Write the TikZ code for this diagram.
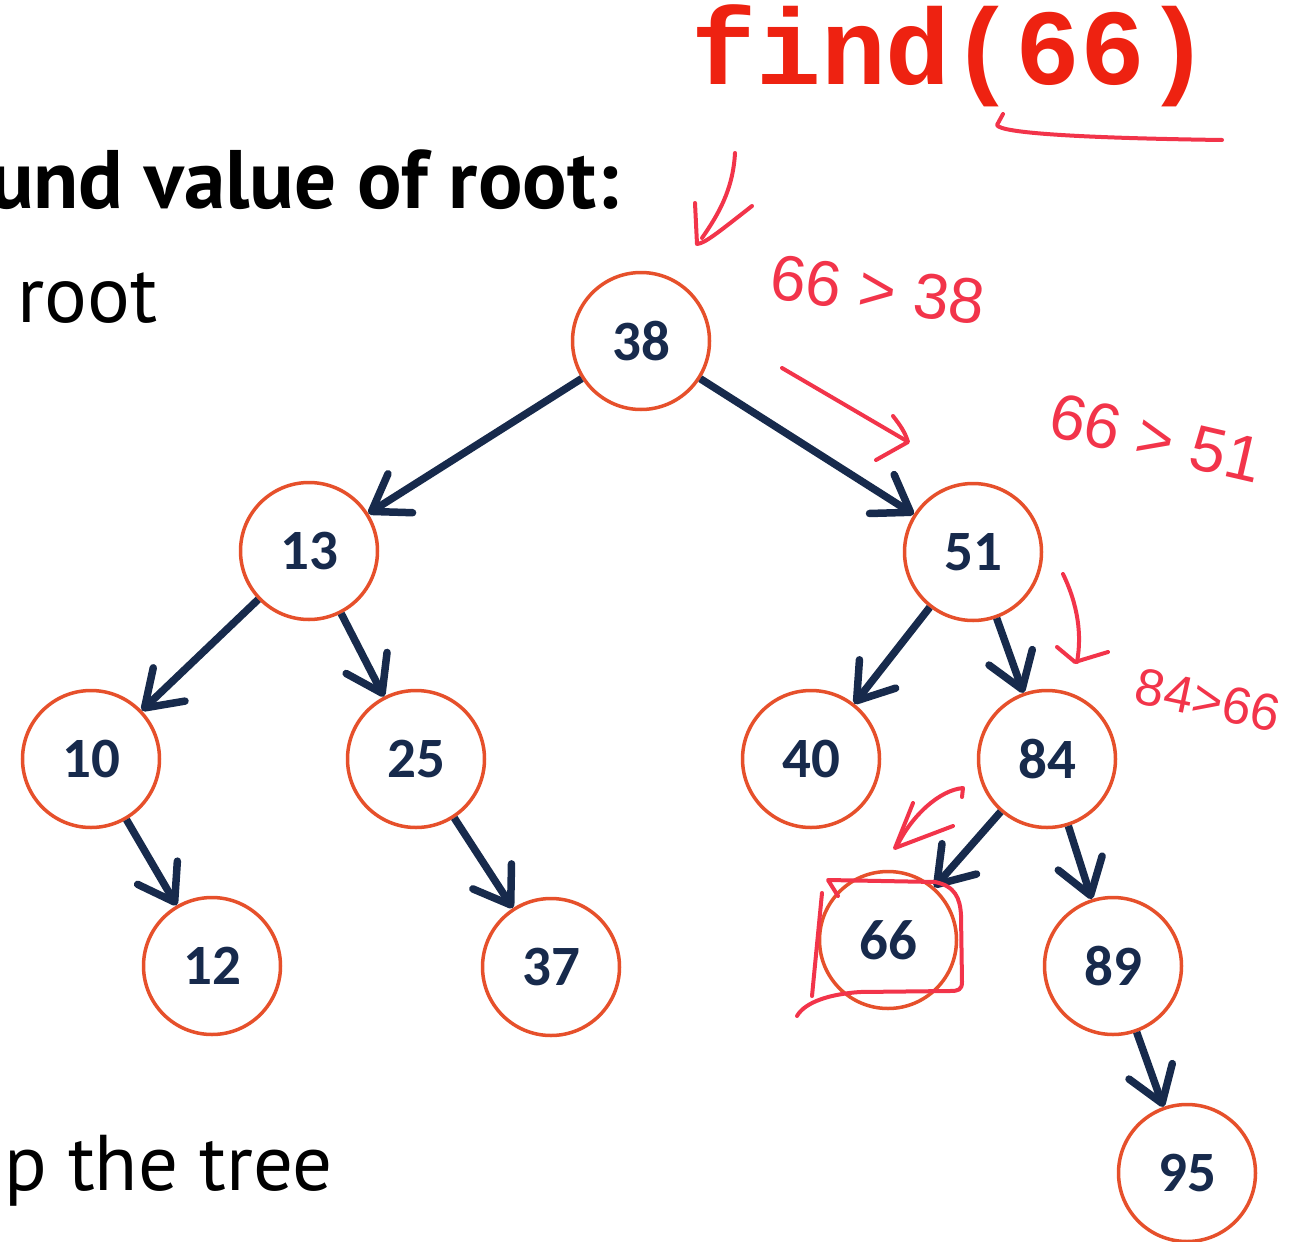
\documentclass[tikz,border=0pt]{standalone}
\usepackage{fontspec}
\setmainfont{PT Sans}
\newfontfamily\keyfont{Carlito}
\newfontfamily\codefont{Liberation Mono}
\newfontfamily\notefont{Liberation Sans}
\usetikzlibrary{arrows.meta}

\definecolor{ringred}{HTML}{E6502B}
\definecolor{navy}{HTML}{172A4C}
\definecolor{inkred}{HTML}{F2344A}
\definecolor{codered}{HTML}{EE2211}

\tikzset{
  key/.style={circle, draw=ringred, line width=3.5pt, minimum size=137pt, inner sep=0pt,
    fill=white, text=navy, font=\keyfont\bfseries\fontsize{57}{57}\selectfont},
  link/.style={draw=navy, line width=7.5pt, -{Straight Barb[length=34pt,width=46pt,round]}},
  ink/.style={draw=inkred, line width=4pt, line cap=round, line join=round},
  note/.style={text=inkred, font=\notefont\fontsize{64}{64}\selectfont}
}

\begin{document}
\begin{tikzpicture}[x=1pt, y=-1pt]
\useasboundingbox (0,0) rectangle (1294,1242);

% slide text
\node[anchor=base east, font=\bfseries\fontsize{83}{83}\selectfont] (heading) at (622,208) {und value of root:};
\node[anchor=base west, font=\fontsize{80}{80}\selectfont] (rootline) at (14,322) {root};
\node[anchor=base east, font=\fontsize{79}{79}\selectfont] (upline) at (336,1190) {up the tree};

% the tree
\node[key] (n38) at (641,341) {38};
\node[key] (n13) at (309,551) {13};
\node[key] (n51) at (973,552) {51};
\node[key] (n10) at (91,759) {10};
\node[key] (n25) at (416,759) {25};
\node[key] (n40) at (811,759) {40};
\node[key] (n84) at (1047,759) {84};
\node[key] (n12) at (212,966) {12};
\node[key] (n37) at (551,967) {37};
\node[key] (n66) at (888,940) {66};
\node[key] (n89) at (1113,966) {89};
\node[key] (n95) at (1187,1173) {95};

\draw[link] (n38) -- (n13);
\draw[link] (n38) -- (n51);
\draw[link] (n13) -- (n10);
\draw[link] (n13) -- (n25);
\draw[link] (n10) -- (n12);
\draw[link] (n25) -- (n37);
\draw[link] (n51) -- (n40);
\draw[link] (n51) -- (n84);
\draw[link] (n84) -- (n66);
\draw[link] (n84) -- (n89);
\draw[link] (n89) -- (n95);

% the call and the scribbles
\node[anchor=base west, text=codered, font=\codefont\bfseries\fontsize{108}{108}\selectfont] (call) at (688,84) {find(66)};
\draw[ink] (1003,114) -- (997,125) .. controls (1000,133) and (1080,138) .. (1222,140);

\draw[ink] (735,153) .. controls (733,190) and (718,215) .. (702,238);
\draw[ink] (695,203) -- (697,244) .. controls (705,243) and (715,235) .. (752,206);
\node[note, rotate=-7] (cmp1) at (878,290) {66 > 38};

\draw[ink] (782,368) -- (905,440);
\draw[ink] (893,416) .. controls (900,425) and (905,432) .. (908,442) -- (876,460);
\node[note, rotate=-13] (cmp2) at (1156,438) {66 > 51};

\draw[ink] (1063,574) .. controls (1078,605) and (1082,635) .. (1077,662);
\draw[ink] (1057,647) -- (1075,662) -- (1108,652);
\node[note, rotate=-12, font=\notefont\fontsize{52}{52}\selectfont] (cmp3) at (1208,700) {84>66};

\draw[ink] (962,797) -- (963,788) .. controls (940,790) and (912,815) .. (897,846);
\draw[ink] (913,803) -- (895,848) -- (953,826);

% box round the hit
\draw[ink] (838,896) -- (828,880) -- (935,882) .. controls (955,886) and (960,898) .. (961,915)
  -- (962,982) .. controls (962,990) and (958,991) .. (950,991) -- (860,992)
  .. controls (830,994) and (805,1002) .. (797,1016);
\draw[ink] (822,893) -- (812,996);
\end{tikzpicture}
\end{document}
